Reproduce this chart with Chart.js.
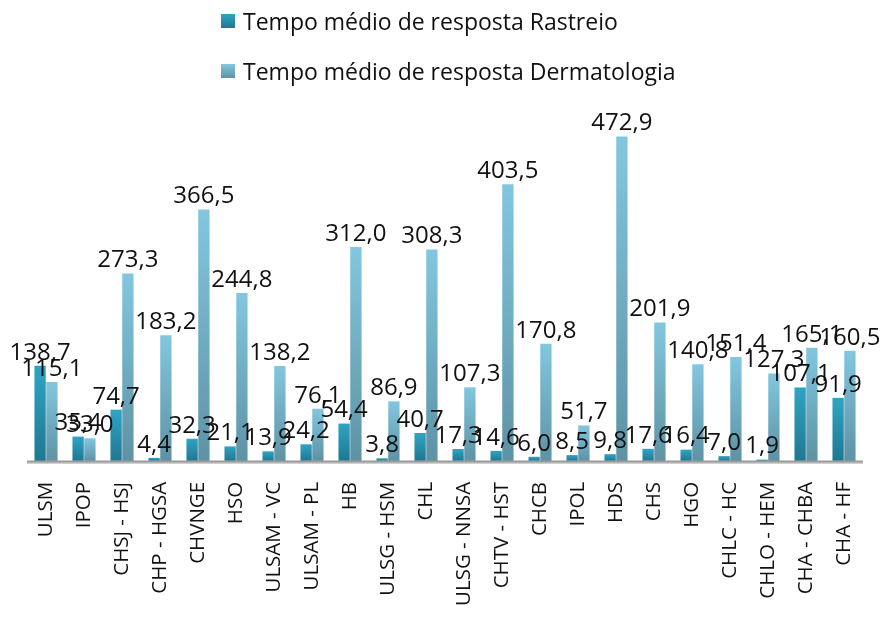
<!DOCTYPE html>
<html>
<head>
<meta charset="utf-8">
<script src="https://cdn.jsdelivr.net/npm/chart.js@4.4.1/dist/chart.umd.min.js"></script>
<style>
  html, body { margin: 0; padding: 0; background: #fff; }
  #wrap { position: relative; width: 882px; height: 621px; }
  #legend { position: absolute; left: 221px; top: -4px; font-family: "Open Sans", "Noto Sans", sans-serif; font-size: 23px; color: #111; }
  .item { display: flex; align-items: center; height: 50px; }
  .box { width: 14px; height: 14px; margin-right: 8px; }
</style>
</head>
<body>
<div id="wrap">
  <canvas id="chart" width="882" height="621"></canvas>
  <div id="legend"></div>
</div>
<script>
// Categories and values
const categories = ["ULSM", "IPOP", "CHSJ - HSJ", "CHP - HGSA", "CHVNGE", "HSO", "ULSAM - VC", "ULSAM - PL",
    "HB", "ULSG - HSM", "CHL", "ULSG - NNSA", "CHTV - HST", "CHCB", "IPOL", "HDS", "CHS", "HGO",
    "CHLC - HC", "CHLO - HEM", "CHA - CHBA", "CHA - HF"];
const seriesNames = ["Tempo médio de resposta Rastreio", "Tempo médio de resposta Dermatologia"];
const rastreio = [138.7, 35.4, 74.7, 4.4, 32.3, 21.1, 13.9, 24.2, 54.4, 3.8, 40.7, 17.3, 14.6, 6.0, 8.5, 9.8,
    17.6, 16.4, 7.0, 1.9, 107.1, 91.9];
const dermatologia = [115.1, 33.0, 273.3, 183.2, 366.5, 244.8, 138.2, 76.1, 312.0, 86.9, 308.3, 107.3, 403.5,
    170.8, 51.7, 472.9, 201.9, 140.8, 151.4, 127.3, 165.1, 160.5];

const gradColors = [["#2fa4c5", "#1f7891"], ["#82c7df", "#5e92a5"]];

// Legend
const legendEl = document.getElementById("legend");
seriesNames.forEach((name, i) => {
    legendEl.innerHTML += `<div class="item"><span class="box" style="background:linear-gradient(${gradColors[i][0]}, ${gradColors[i][1]})"></span>${name}</div>`;
});

const barGradient = (idx) => (ctx) => {
    const chart = ctx.chart;
    const area = chart.chartArea;
    if (!area || ctx.type !== "data") return gradColors[idx][0];
    const yScale = chart.scales.y;
    const top = yScale.getPixelForValue(ctx.raw);
    const bottom = yScale.getPixelForValue(0);
    if (!isFinite(top) || bottom - top < 1) return gradColors[idx][0];
    const g = chart.ctx.createLinearGradient(0, top, 0, bottom);
    g.addColorStop(0, gradColors[idx][0]);
    g.addColorStop(1, gradColors[idx][1]);
    return g;
};

// Value labels above bars
const valueLabels = {
    id: "valueLabels",
    afterDatasetsDraw(chart) {
        const { ctx } = chart;
        ctx.save();
        ctx.font = "24px 'Open Sans', 'Noto Sans', sans-serif";
        ctx.fillStyle = "#111";
        ctx.textAlign = "center";
        ctx.textBaseline = "bottom";
        chart.data.datasets.forEach((ds, i) => {
            chart.getDatasetMeta(i).data.forEach((bar, j) => {
                ctx.fillText(ds.data[j].toFixed(1).replace(".", ","), bar.x, bar.y - 1);
            });
        });
        ctx.restore();
    }
};

// Axis line with light shadow
const axisLine = {
    id: "axisLine",
    afterDatasetsDraw(chart) {
        const { ctx, chartArea } = chart;
        const y = chart.scales.y.getPixelForValue(0);
        ctx.save();
        ctx.strokeStyle = "#d0d0d0";
        ctx.lineWidth = 2;
        ctx.beginPath();
        ctx.moveTo(chartArea.left, y + 2);
        ctx.lineTo(chartArea.right, y + 2);
        ctx.stroke();
        ctx.strokeStyle = "#9a9a9a";
        ctx.lineWidth = 2;
        ctx.beginPath();
        ctx.moveTo(chartArea.left, y + 0.5);
        ctx.lineTo(chartArea.right, y + 0.5);
        ctx.stroke();
        ctx.restore();
    }
};

new Chart(document.getElementById("chart"), {
    type: "bar",
    data: {
        labels: categories,
        datasets: [
            { label: seriesNames[0], data: rastreio, backgroundColor: barGradient(0) },
            { label: seriesNames[1], data: dermatologia, backgroundColor: barGradient(1) }
        ]
    },
    options: {
        responsive: false,
        animation: false,
        layout: { padding: { top: 118, left: 27, right: 17, bottom: 2 } },
        datasets: { bar: { categoryPercentage: 0.62, barPercentage: 0.96 } },
        plugins: { legend: { display: false }, tooltip: { enabled: false } },
        scales: {
            y: { display: false, min: 0, max: 500 },
            x: {
                grid: { display: false },
                border: { display: false },
                ticks: {
                    minRotation: 90, maxRotation: 90, padding: 13, color: "#111",
                    font: { family: "'Open Sans', 'Noto Sans', sans-serif", size: 20.5 }
                }
            }
        }
    },
    plugins: [valueLabels, axisLine]
});
</script>
</body>
</html>
